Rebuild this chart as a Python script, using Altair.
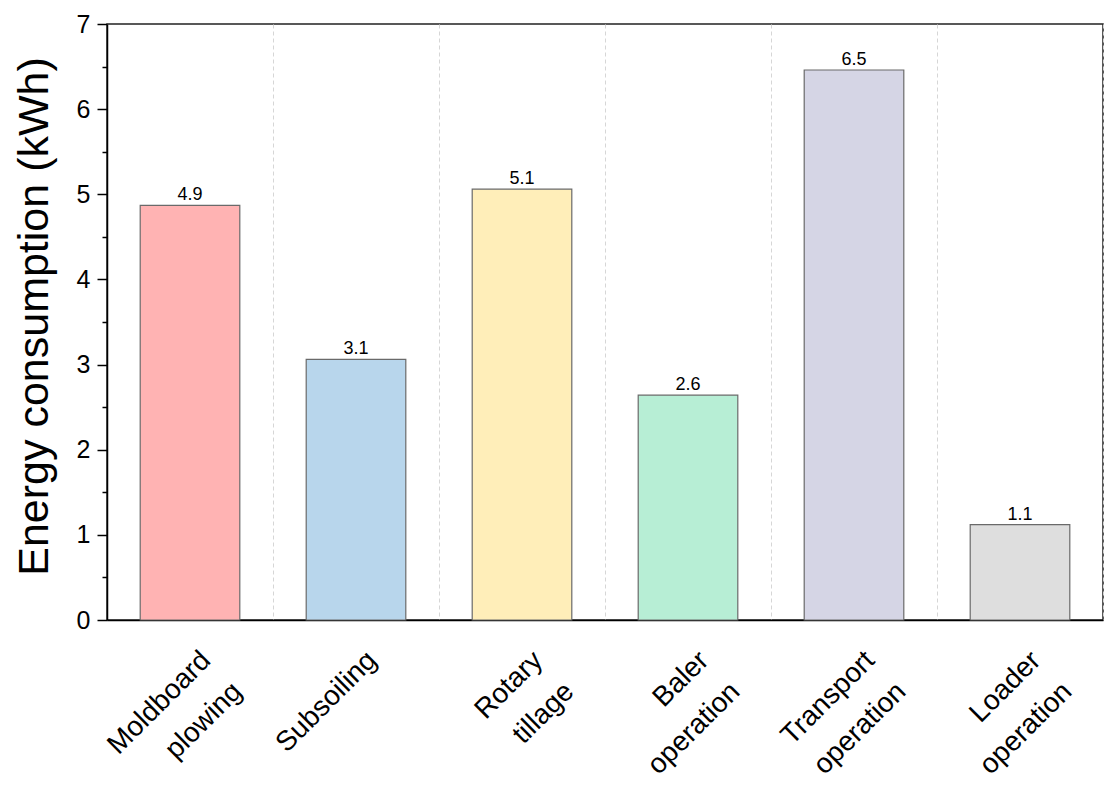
import altair as alt
import pandas as pd

categories = ["Moldboard plowing", "Subsoiling", "Rotary tillage",
              "Baler operation", "Transport operation", "Loader operation"]
values = [4.87, 3.06, 5.06, 2.64, 6.46, 1.12]
colors = ["#FFB3B3", "#B8D6EC", "#FFEEB9", "#B7EED5", "#D5D5E5", "#DEDEDE"]
y_ticks = [0, 0.5, 1, 1.5, 2, 2.5, 3, 3.5, 4, 4.5, 5, 5.5, 6, 6.5, 7]

df = pd.DataFrame({"cat": categories, "val": values, "color": colors})

FONT = "Liberation Sans"

x = alt.X(
    "cat:N", sort=categories,
    scale=alt.Scale(paddingInner=0, paddingOuter=0),
    axis=alt.Axis(
        title=None, labelAngle=-45, labelAlign="right", labelBaseline="top",
        labelFontSize=28, labelFont=FONT, labelColor="black",
        labelLineHeight=44, labelExpr="split(datum.label, ' ')",
        labelPadding=26, labelOffset=6, labelOverlap=False, labelLimit=400,
        ticks=False, tickBand="extent", grid=True, gridDash=[4, 3],
        gridColor="#d6d6d6", gridWidth=1,
        domainColor="black", domainWidth=1.5,
    ),
)
y = alt.Y(
    "val:Q",
    scale=alt.Scale(domain=[0, 7], nice=False, zero=True),
    axis=alt.Axis(
        title="Energy consumption (kWh)", values=y_ticks,
        labelExpr="datum.value % 1 ? '' : format(datum.value, 'd')",
        tickSize={"condition": {"test": "datum.value % 1 !== 0", "value": 5}, "value": 10},
        tickColor="black", tickWidth=1.5,
        labelFontSize=25, labelFont=FONT, labelColor="black", labelPadding=7,
        grid=False, domainColor="black", domainWidth=1.5,
        titleFontSize=43, titleFont=FONT, titleFontWeight="normal", titleColor="black",
        titleX=-60, titleY=292, titleAngle=-90, titleBaseline="alphabetic", titleAlign="center",
    ),
)

base = alt.Chart(df).encode(x=x, y=y)

bars = base.mark_bar(stroke="#6a6a6a", strokeWidth=1.2, width={"band": 0.6}).encode(
    color=alt.Color("color:N", scale=None)
)
text = base.mark_text(dy=-5, fontSize=18, font=FONT, baseline="alphabetic", color="black").encode(
    text=alt.Text("val:Q", format=".1f")
)

chart = alt.layer(bars, text).properties(
    width=996, height=596,
    background="white",
    autosize=alt.AutoSizeParams(type="none"),
    padding={"left": 99, "top": 16, "right": 2, "bottom": 160},
).configure_view(stroke="#222222", strokeWidth=1.5)

chart.save("out.html", embed_options={"renderer": "svg", "actions": False})
